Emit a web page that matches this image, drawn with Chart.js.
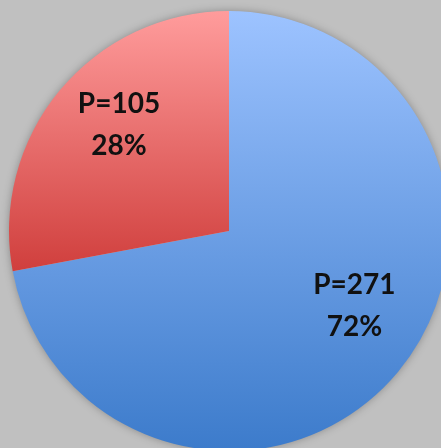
<!DOCTYPE html>
<html>
<head>
<meta charset="utf-8">
<script src="https://cdn.jsdelivr.net/npm/chart.js@4.4.0/dist/chart.umd.min.js"></script>
<style>
  html, body { margin: 0; padding: 0; width: 441px; height: 448px; overflow: hidden; background: #c0c0c0; }
  #wrap { position: absolute; left: 0; top: 0; width: 458px; height: 462px; }
</style>
</head>
<body>
<div id="wrap"><canvas id="pasta"></canvas></div>
<script>
// veriler
var dilimAdlari = ["P=271", "P=105"];
var dilimDegerleri = [271, 105];
var yuzdeEtiketleri = ["72%", "28%"];

// renkler (ust, alt)
var renkUst = ["#9dc3ff", "#ff9c9c"];
var renkAlt = ["#3c7bcb", "#d03f3d"];
// gradyan bitisi (yaricap orani, merkeze gore)
var gradyanSonu = [1, 0.18];
// etiket kaydirmalari (yaricapa oranla)
var etiketYeri = [[0.57, 0.34], [-0.50, -0.48]];

function dilimRengi(ctx) {
  var chart = ctx.chart;
  var alan = chart.chartArea;
  if (!alan) return renkUst[ctx.dataIndex];
  var cy = (alan.top + alan.bottom) / 2;
  var r = Math.min(alan.right - alan.left, alan.bottom - alan.top) / 2;
  var g = chart.ctx.createLinearGradient(0, cy - r, 0, cy + gradyanSonu[ctx.dataIndex] * r);
  g.addColorStop(0, renkUst[ctx.dataIndex]);
  g.addColorStop(1, renkAlt[ctx.dataIndex]);
  return g;
}

var golgeEklentisi = {
  id: "golge",
  beforeDatasetsDraw: function (chart) {
    var arc = chart.getDatasetMeta(0).data[0];
    var c = chart.ctx;
    c.save();
    c.shadowColor = "rgba(0,0,0,0.35)";
    c.shadowBlur = 10;
    c.fillStyle = "#c0c0c0";
    c.beginPath();
    c.arc(arc.x, arc.y, arc.outerRadius - 1, 0, Math.PI * 2);
    c.fill();
    c.restore();
  }
};

var etiketEklentisi = {
  id: "etiket",
  afterDatasetsDraw: function (chart) {
    var meta = chart.getDatasetMeta(0);
    var c = chart.ctx;
    c.save();
    c.fillStyle = "#111";
    c.font = "bold 28px Lato";
    c.textAlign = "center";
    c.textBaseline = "middle";
    for (var i = 0; i < meta.data.length; i++) {
      var arc = meta.data[i];
      var x = arc.x + etiketYeri[i][0] * arc.outerRadius;
      var y = arc.y + etiketYeri[i][1] * arc.outerRadius;
      c.fillText(dilimAdlari[i], x, y - 21);
      c.fillText(yuzdeEtiketleri[i], x, y + 21);
    }
    c.restore();
  }
};

var ctx = document.getElementById("pasta");
var myChart = new Chart(ctx, {
  type: "pie",
  data: {
    labels: dilimAdlari,
    datasets: [{
      data: dilimDegerleri,
      backgroundColor: dilimRengi,
      borderWidth: 0
    }]
  },
  options: {
    responsive: true,
    maintainAspectRatio: false,
    animation: false,
    layout: { padding: 9 },
    plugins: {
      legend: { display: false },
      tooltip: { enabled: false }
    }
  },
  plugins: [golgeEklentisi, etiketEklentisi]
});
</script>
</body>
</html>
